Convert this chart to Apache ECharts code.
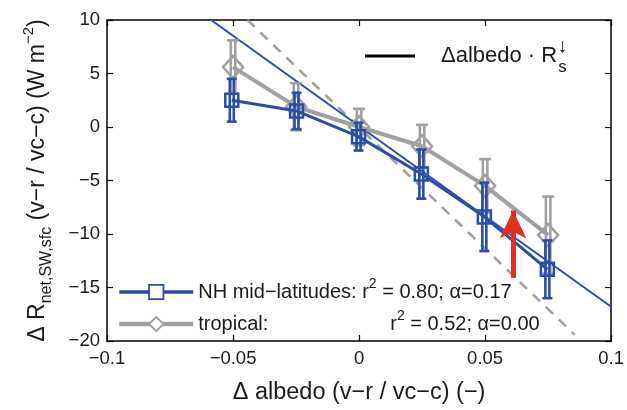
<!DOCTYPE html>
<html><head><meta charset="utf-8">
<script src="https://cdn.jsdelivr.net/npm/echarts@6/dist/echarts.min.js"></script>
<style>html,body{margin:0;padding:0;background:#fff}#c{width:627px;height:410px}</style>
</head><body><div id="c"></div>
<script>
// ---- data ----
const xTicks = [-0.1, -0.05, 0, 0.05, 0.1];
const xTickLabels = ['−0.1', '−0.05', '0', '0.05', '0.1'];
const yTicks = [-20, -15, -10, -5, 0, 5, 10];
const yTickLabels = ['−20', '−15', '−10', '−5', '0', '5', '10'];

const nhX = [-0.0505, -0.0248, -0.0002, 0.0247, 0.0497, 0.0747];
const nhY = [2.5, 1.5, -0.9, -4.4, -8.4, -13.3];
const nhErr = [2.0, 1.7, 1.3, 2.3, 3.2, 2.7];

const trX = [-0.05, -0.025, 0, 0.025, 0.05, 0.075];
const trY = [5.6, 1.9, 0.0, -1.8, -5.5, -10.1];
const trErr = [2.5, 2.2, 1.7, 2.0, 2.5, 3.6];

const nhFitX = [-0.0587, 0.1];
const nhFitY = [10, -16.8];
const trFitX = [-0.0443, 0.0855];
const trFitY = [10, -19.4];

const arrowX = [0.0611, 0.0611];
const arrowY = [-14.1, -7.8];

const nhLabel = 'NH mid−latitudes';
const trLabel = 'tropical';
const refLabel = 'Δalbedo · R';

// ---- styles ----
const BLUE = '#2a4da6';
const GRAY = '#a0a0a0';
const RED = '#e2301f';
const FONT = '"Liberation Sans", Arial, Helvetica, sans-serif';

function pairs(xs, ys) { return xs.map((x, i) => [x, ys[i]]); }
function errData(xs, ys, es) { return xs.map((x, i) => [x, ys[i] - es[i], ys[i] + es[i]]); }

function errRender(color, capW, lw, gap) {
  return function (params, api) {
    const x = api.value(0), lo = api.value(1), hi = api.value(2);
    const pLo = api.coord([x, lo]), pHi = api.coord([x, hi]);
    const st = { stroke: color, lineWidth: lw };
    const ch = [];
    [-gap / 2, gap / 2].forEach(function (d) {
      ch.push({ type: 'line', shape: { x1: pLo[0] + d, y1: pLo[1], x2: pHi[0] + d, y2: pHi[1] }, style: st });
    });
    ch.push({ type: 'line', shape: { x1: pLo[0] - capW / 2, y1: pLo[1], x2: pLo[0] + capW / 2, y2: pLo[1] }, style: st });
    ch.push({ type: 'line', shape: { x1: pHi[0] - capW / 2, y1: pHi[1], x2: pHi[0] + capW / 2, y2: pHi[1] }, style: st });
    return { type: 'group', children: ch };
  };
}

const xFmt = v => { const i = xTicks.findIndex(t => Math.abs(t - v) < 1e-9); return i >= 0 ? xTickLabels[i] : ''; };
const yFmt = v => { const i = yTicks.findIndex(t => Math.abs(t - v) < 1e-9); return i >= 0 ? yTickLabels[i] : ''; };

const axisLine = { show: true, onZero: false, lineStyle: { color: '#000', width: 1.5 } };
const axisTick = { show: true, inside: true, length: 6, lineStyle: { color: '#000', width: 1.2 } };

const chart = echarts.init(document.getElementById('c'));
chart.setOption({
  animation: false,
  backgroundColor: '#fff',
  textStyle: { fontFamily: FONT },
  grid: { left: 107, right: 11, top: 20, bottom: 66, containLabel: false },
  xAxis: [
    {
      type: 'value', min: -0.1, max: 0.1, interval: 0.05, position: 'bottom',
      axisLine: axisLine, axisTick: axisTick, splitLine: { show: false },
      axisLabel: { formatter: xFmt, fontSize: 18.5, color: '#1a1a1a', margin: 8, fontFamily: FONT },
      name: 'Δ albedo (v−r / vc−c) (−)', nameLocation: 'middle', nameGap: 40,
      nameTextStyle: { fontSize: 23.5, color: '#1a1a1a', fontFamily: FONT }
    },
    {
      type: 'value', min: -0.1, max: 0.1, interval: 0.05, position: 'top',
      axisLine: axisLine, axisTick: axisTick, splitLine: { show: false }, axisLabel: { show: false }
    }
  ],
  yAxis: [
    {
      type: 'value', min: -20, max: 10, interval: 5, position: 'left',
      axisLine: axisLine, axisTick: axisTick, splitLine: { show: false },
      axisLabel: { formatter: yFmt, fontSize: 18.5, color: '#1a1a1a', margin: 7, fontFamily: FONT },
      name: '{m|Δ R}{sub|net,SW,sfc}{m| (v−r / vc−c) (W m}{sup|−2}{m|)}',
      nameLocation: 'middle', nameRotate: 90, nameGap: 52,
      nameTextStyle: {
        color: '#1a1a1a', fontFamily: FONT,
        rich: {
          m: { fontSize: 23, lineHeight: 34, verticalAlign: 'middle', color: '#1a1a1a', fontFamily: FONT },
          sub: { fontSize: 16, lineHeight: 15, verticalAlign: 'bottom', color: '#1a1a1a', fontFamily: FONT },
          sup: { fontSize: 15, lineHeight: 15, verticalAlign: 'top', color: '#1a1a1a', fontFamily: FONT }
        }
      }
    },
    {
      type: 'value', min: -20, max: 10, interval: 5, position: 'right',
      axisLine: axisLine, axisTick: axisTick, splitLine: { show: false }, axisLabel: { show: false }
    }
  ],
  legend: [
    {
      data: [{ name: refLabel, icon: 'rect', itemStyle: { color: '#000', borderWidth: 0 } }],
      left: 360, top: 31, itemWidth: 50, itemHeight: 3, selectedMode: false,
      formatter: function () { return '{g| }{t|Δalbedo · R}{up|↓}{dn|s}'; },
      textStyle: {
        fontFamily: FONT,
        rich: {
          g: { width: 21, fontSize: 22, lineHeight: 40, verticalAlign: 'middle' },
          t: { fontSize: 22, lineHeight: 40, verticalAlign: 'middle', color: '#1a1a1a', fontFamily: FONT },
          up: { fontSize: 20, lineHeight: 20, verticalAlign: 'top', width: 1, align: 'left', color: '#1a1a1a', fontFamily: FONT },
          dn: { fontSize: 17, lineHeight: 17, verticalAlign: 'bottom', color: '#1a1a1a', fontFamily: FONT }
        }
      }
    },
    {
      data: [
        { name: nhLabel, itemStyle: { color: '#fff', borderColor: BLUE, borderWidth: 1.8 }, lineStyle: { color: BLUE, width: 3.5 } },
        { name: trLabel, itemStyle: { color: '#fff', borderColor: GRAY, borderWidth: 1.8 }, lineStyle: { color: GRAY, width: 4.5 } }
      ],
      orient: 'vertical', left: 112, top: 272, itemWidth: 74, itemHeight: 18, itemGap: 7,
      selectedMode: false,
      formatter: function (name) {
        if (name === nhLabel) return '{t|NH mid−latitudes: r}{sup|2}{t| = 0.80; α=0.17}';
        return '{w|tropical:}{t|r}{sup|2}{t| = 0.52; α=0.00}';
      },
      textStyle: {
        fontFamily: FONT,
        rich: {
          t: { fontSize: 20, lineHeight: 30, verticalAlign: 'middle', color: '#1a1a1a', fontFamily: FONT },
          w: { fontSize: 20, lineHeight: 30, verticalAlign: 'middle', width: 192, color: '#1a1a1a', fontFamily: FONT },
          sup: { fontSize: 14, lineHeight: 14, verticalAlign: 'top', color: '#1a1a1a', fontFamily: FONT }
        }
      }
    }
  ],
  series: [
    {
      name: refLabel, type: 'line', data: [], symbol: 'none',
      lineStyle: { color: '#000', width: 3 }, itemStyle: { color: '#000' }
    },
    {
      name: 'trFit', type: 'line', data: pairs(trFitX, trFitY), symbol: 'none', z: 1,
      lineStyle: { color: GRAY, width: 2.6, type: [10, 8] }, silent: true
    },
    {
      name: 'nhFit', type: 'line', data: pairs(nhFitX, nhFitY), symbol: 'none', z: 1,
      lineStyle: { color: BLUE, width: 2 }, silent: true
    },
    {
      name: trLabel, type: 'line', data: pairs(trX, trY), z: 2,
      symbol: 'diamond', symbolSize: [20, 22],
      lineStyle: { color: GRAY, width: 4 },
      itemStyle: { color: 'rgba(0,0,0,0)', borderColor: GRAY, borderWidth: 2.5 }
    },
    {
      name: 'trErr', type: 'custom', data: errData(trX, trY, trErr), z: 2,
      renderItem: errRender(GRAY, 12, 2.6, 4.5), silent: true
    },
    {
      name: nhLabel, type: 'line', data: pairs(nhX, nhY), z: 3,
      symbol: 'rect', symbolSize: 13,
      lineStyle: { color: BLUE, width: 3 },
      itemStyle: { color: 'rgba(0,0,0,0)', borderColor: BLUE, borderWidth: 2.5 }
    },
    {
      name: 'nhErr', type: 'custom', data: errData(nhX, nhY, nhErr), z: 3,
      renderItem: errRender(BLUE, 10, 2.6, 4), silent: true
    },
    {
      name: 'arrow', type: 'line', data: [], symbol: 'none', silent: true, z: 5,
      markLine: {
        silent: true, symbol: ['none', 'arrow'], symbolSize: [20, 28],
        label: { show: false },
        lineStyle: { color: RED, width: 5, type: 'solid' },
        data: [[{ coord: [arrowX[0], arrowY[0]] }, { coord: [arrowX[1], arrowY[1]] }]]
      }
    }
  ]
});
</script>
</body></html>
